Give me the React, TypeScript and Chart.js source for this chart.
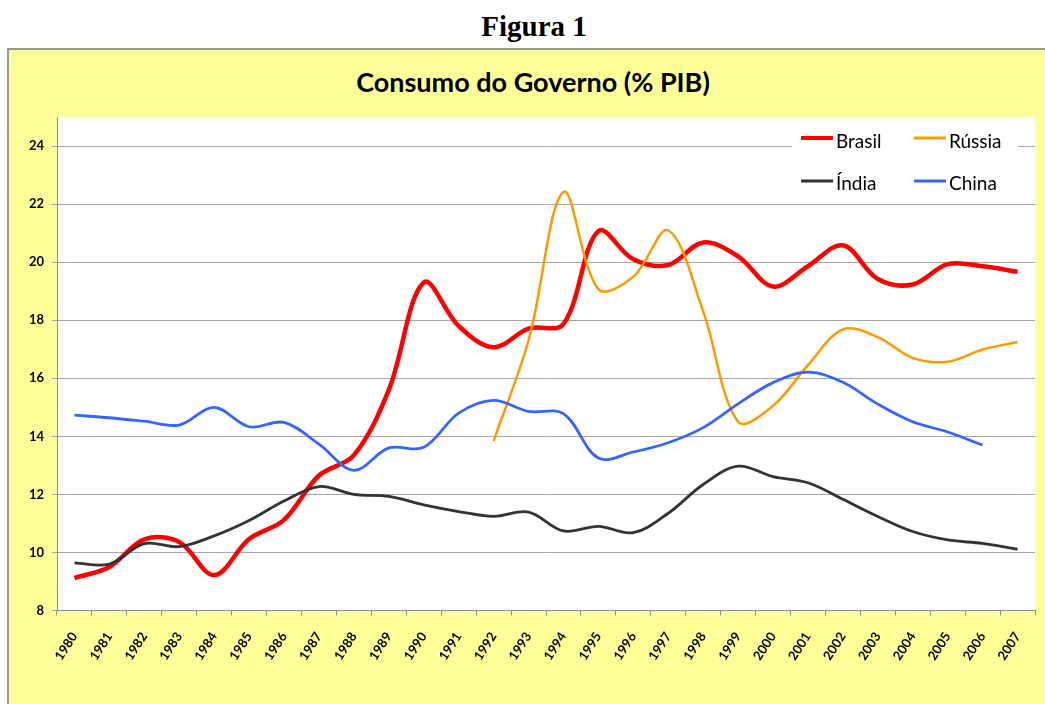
import React, { useEffect, useRef } from 'react';
import { Chart, registerables } from 'chart.js';

Chart.register(...registerables);

// ---- data ----
const years = [
  '1980', '1981', '1982', '1983', '1984', '1985', '1986', '1987', '1988', '1989',
  '1990', '1991', '1992', '1993', '1994', '1995', '1996', '1997', '1998', '1999',
  '2000', '2001', '2002', '2003', '2004', '2005', '2006', '2007',
];

const brasil = [
  9.12, 9.5, 10.45, 10.36, 9.22, 10.46, 11.12, 12.65, 13.35, 15.6,
  19.3, 17.8, 17.07, 17.71, 17.87, 21.07, 20.1, 19.9, 20.68, 20.2,
  19.16, 19.86, 20.58, 19.42, 19.23, 19.93, 19.86, 19.67,
];

const russia = [
  null, null, null, null, null, null, null, null, null, null,
  null, null, 13.84, 17.3, 22.42, 19.07, 19.5, 21.09, 18.3, 14.5,
  15.05, 16.45, 17.68, 17.42, 16.7, 16.57, 16.99, 17.25,
];

const india = [
  9.64, 9.6, 10.3, 10.2, 10.57, 11.1, 11.77, 12.27, 12.0, 11.93,
  11.64, 11.41, 11.24, 11.39, 10.74, 10.9, 10.68, 11.35, 12.34, 12.97,
  12.61, 12.4, 11.83, 11.24, 10.72, 10.43, 10.31, 10.11,
];

const china = [
  14.73, 14.64, 14.52, 14.39, 15.0, 14.33, 14.48, 13.73, 12.83, 13.6,
  13.62, 14.8, 15.24, 14.86, 14.78, 13.25, 13.46, 13.78, 14.3, 15.12,
  15.85, 16.21, 15.86, 15.11, 14.5, 14.15, 13.7, null,
];

const seriesNames = ['Brasil', 'Rússia', 'Índia', 'China'];
const seriesColors = ['#FF0000', '#FF9900', '#333333', '#3366FF'];
const seriesWidths = [4.5, 2.5, 2.8, 2.8];

const yMin = 8;
const yMax = 25;
const yStep = 2;

const figureTitle = 'Figura 1';
const chartTitle = 'Consumo do Governo (% PIB)';

const W = 1045;
const H = 704;

export default function App() {
  const canvasRef = useRef<HTMLCanvasElement | null>(null);

  useEffect(() => {
    const canvas = canvasRef.current;
    if (!canvas) return;

    const plotBg = {
      id: 'plotBg',
      beforeDraw(chart: any) {
        const { ctx, chartArea: a } = chart;
        ctx.save();
        ctx.fillStyle = '#FFFFFF';
        ctx.fillRect(a.left, a.top, a.right - a.left, a.bottom - a.top);
        ctx.restore();
      },
    };

    const legendBox = {
      id: 'legendBox',
      afterDraw(chart: any) {
        const { ctx } = chart;
        const ds = chart.data.datasets;
        ctx.save();
        ctx.fillStyle = '#FFFFFF';
        ctx.fillRect(792, 124, 226, 74);
        const cols = [801, 914];
        const rowsLine = [138, 181];
        const rowsText = [147.5, 190];
        ctx.font = '19px Lato';
        ctx.textBaseline = 'alphabetic';
        ctx.textAlign = 'left';
        ds.forEach((d: any, i: number) => {
          const c = i % 2;
          const r = Math.floor(i / 2);
          const x = cols[c];
          ctx.strokeStyle = d.borderColor;
          ctx.lineWidth = i === 0 ? 4 : 3;
          ctx.lineCap = 'butt';
          ctx.beginPath();
          ctx.moveTo(x, rowsLine[r]);
          ctx.lineTo(x + 32, rowsLine[r]);
          ctx.stroke();
          ctx.fillStyle = '#000000';
          ctx.fillText(d.label, x + 35, rowsText[r]);
        });
        ctx.restore();
      },
    };

    const seriesData = [brasil, russia, india, china];
    const tickFont = { family: 'Lato', weight: 'bold' as const, size: 13 };

    const chart = new Chart(canvas, {
      type: 'line',
      data: {
        labels: years,
        datasets: seriesData.map((d, i) => ({
          label: seriesNames[i],
          data: d,
          borderColor: seriesColors[i],
          backgroundColor: seriesColors[i],
          borderWidth: seriesWidths[i],
          pointRadius: 0,
          pointHoverRadius: 0,
          tension: 0.35,
          spanGaps: false,
          fill: false,
          order: 4 - i,
        })),
      },
      options: {
        responsive: false,
        animation: false,
        devicePixelRatio: 1,
        events: [],
        layout: { padding: { left: 0, top: 117, right: 10, bottom: 0 } },
        plugins: {
          legend: { display: false },
          title: { display: false },
          tooltip: { enabled: false },
        },
        scales: {
          x: {
            type: 'category',
            offset: true,
            grid: {
              offset: true,
              drawOnChartArea: false,
              drawTicks: true,
              tickLength: 5,
              color: '#8C8C8C',
            },
            border: { color: '#8C8C8C', width: 1 },
            ticks: {
              font: tickFont,
              color: '#000000',
              minRotation: 57,
              maxRotation: 57,
              autoSkip: false,
              padding: 14,
            },
            afterFit: (s: any) => {
              s.height = 93.5;
            },
          },
          y: {
            type: 'linear',
            min: yMin,
            max: yMax,
            ticks: {
              stepSize: yStep,
              includeBounds: false,
              font: tickFont,
              color: '#000000',
              padding: 8,
            },
            grid: {
              color: '#A6A6A6',
              lineWidth: 1,
              tickLength: 5,
            },
            border: { color: '#8C8C8C', width: 1 },
            afterFit: (s: any) => {
              s.width = 57;
            },
          },
        },
      },
      plugins: [plotBg, legendBox],
    } as any);

    return () => chart.destroy();
  }, []);

  return (
    <div
      style={{
        position: 'fixed',
        left: 0,
        top: 0,
        width: W,
        height: H,
        overflow: 'hidden',
        background: '#FFFFFF',
      }}
    >
      <div
        style={{
          position: 'absolute',
          left: 0,
          top: 12,
          width: 1068,
          textAlign: 'center',
          fontFamily: '"Liberation Serif", "Times New Roman", serif',
          fontWeight: 'bold',
          fontSize: 29,
          lineHeight: '29px',
          color: '#000',
        }}
      >
        {figureTitle}
      </div>
      <div
        style={{
          position: 'absolute',
          left: 7,
          top: 48,
          width: W - 7,
          height: H - 48,
          background: '#FFFF99',
          borderTop: '2px solid #999999',
          borderLeft: '2px solid #999999',
          boxSizing: 'border-box',
        }}
      />
      <div
        style={{
          position: 'absolute',
          left: 0,
          top: 68,
          width: 1066,
          textAlign: 'center',
          fontFamily: 'Lato, sans-serif',
          fontWeight: 'bold',
          fontSize: 27,
          lineHeight: '27px',
          color: '#000',
        }}
      >
        {chartTitle}
      </div>
      <canvas
        ref={canvasRef}
        width={W}
        height={H}
        style={{ position: 'absolute', left: 0, top: 0, width: W, height: H }}
      />
    </div>
  );
}
